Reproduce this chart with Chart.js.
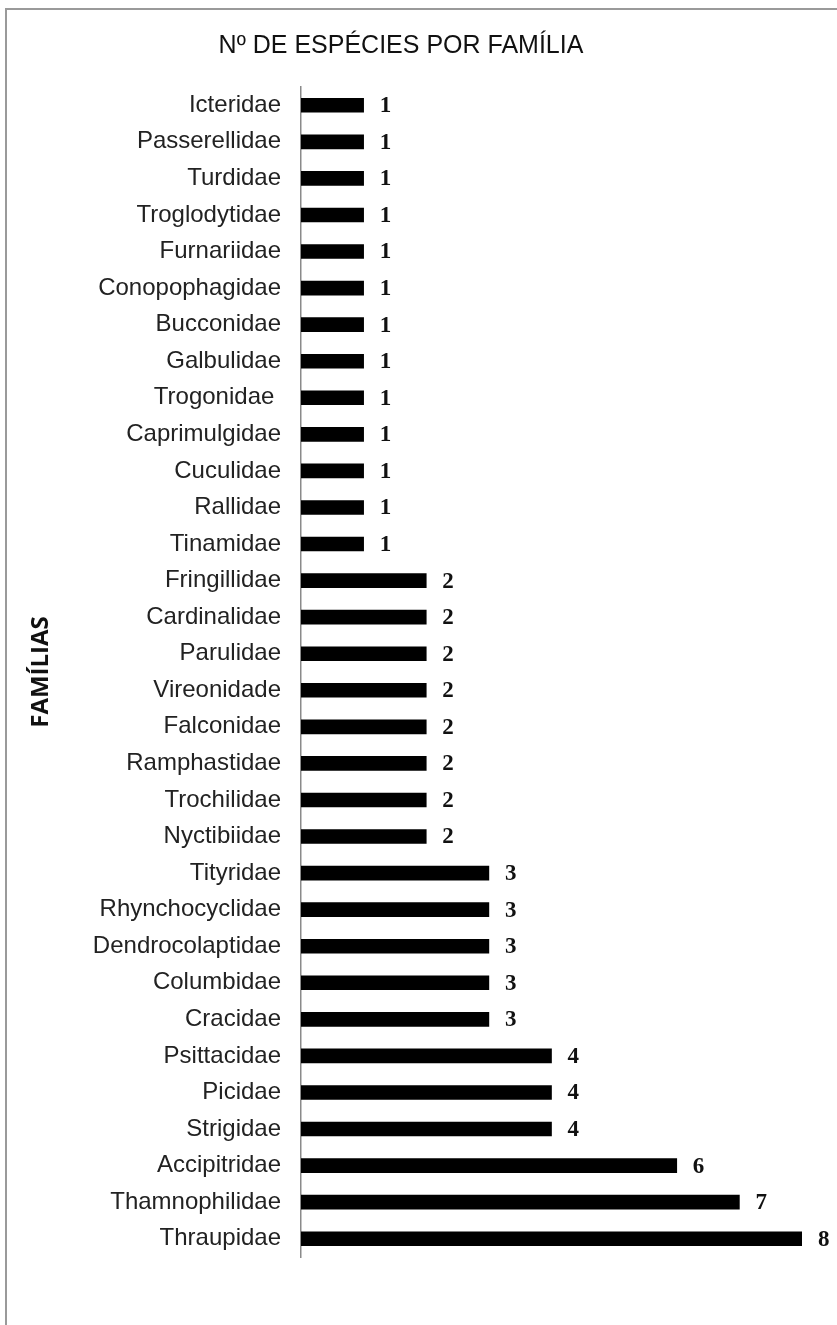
<!DOCTYPE html>
<html>
<head>
<meta charset="utf-8">
<script src="https://cdn.jsdelivr.net/npm/chart.js@4"></script>
<style>
  html, body { margin: 0; padding: 0; background: #fff; }
  #wrap { position: relative; width: 837px; height: 1325px; overflow: hidden; }
  #frame { position: absolute; left: 5px; top: 8px; width: 900px; height: 1400px;
           border-top: 2px solid #9a9a9a; border-left: 2px solid #9a9a9a; }
  canvas { position: absolute; left: 0; top: 0; }
</style>
</head>
<body>
<div id="wrap">
  <div id="frame"></div>
  <canvas id="myBarChart" width="837" height="1325"></canvas>
</div>
<script>
// familias (de cima pra baixo) e numero de especies
const familias = [
  'Icteridae', 'Passerellidae', 'Turdidae', 'Troglodytidae', 'Furnariidae',
  'Conopophagidae', 'Bucconidae', 'Galbulidae', 'Trogonidae ', 'Caprimulgidae',
  'Cuculidae', 'Rallidae', 'Tinamidae', 'Fringillidae', 'Cardinalidae',
  'Parulidae', 'Vireonidade', 'Falconidae', 'Ramphastidae', 'Trochilidae',
  'Nyctibiidae', 'Tityridae', 'Rhynchocyclidae', 'Dendrocolaptidae', 'Columbidae',
  'Cracidae', 'Psittacidae', 'Picidae', 'Strigidae', 'Accipitridae',
  'Thamnophilidae', 'Thraupidae'
];
const especies = [
  1, 1, 1, 1, 1,
  1, 1, 1, 1, 1,
  1, 1, 1, 2, 2,
  2, 2, 2, 2, 2,
  2, 3, 3, 3, 3,
  3, 4, 4, 4, 6,
  7, 8
];

// escreve o valor ao lado de cada barra
const rotuloValor = {
  id: 'rotuloValor',
  afterDatasetsDraw(chart) {
    const { ctx } = chart;
    const meta = chart.getDatasetMeta(0);
    ctx.save();
    ctx.font = 'bold 23px "Liberation Serif", "DejaVu Serif", serif';
    ctx.fillStyle = '#111';
    ctx.textAlign = 'left';
    ctx.textBaseline = 'middle';
    meta.data.forEach((bar, i) => {
      ctx.fillText(String(especies[i]), bar.x + 16, bar.y + 1);
    });
    ctx.restore();
  }
};

new Chart(document.getElementById('myBarChart'), {
  type: 'bar',
  data: {
    labels: familias,
    datasets: [{
      data: especies,
      backgroundColor: '#000',
      borderWidth: 0,
      barThickness: 14
    }]
  },
  options: {
    indexAxis: 'y',
    responsive: false,
    animation: false,
    layout: { padding: { left: 0, right: 35, top: 0, bottom: 68 } },
    plugins: {
      legend: { display: false },
      tooltip: { enabled: false },
      title: {
        display: true,
        text: 'Nº DE ESPÉCIES POR FAMÍLIA',
        color: '#111',
        font: { family: '"Liberation Sans", Arial, sans-serif', size: 25, weight: 'normal' },
        padding: { top: 31, bottom: 26 }
      }
    },
    scales: {
      x: {
        display: false,
        min: 0,
        max: 8
      },
      y: {
        afterFit(scale) { scale.width = 301; },
        grid: { display: false, drawTicks: false },
        border: { display: true, color: '#8a8a8a', width: 1.5 },
        ticks: {
          color: '#222',
          padding: 20,
          autoSkip: false,
          font: { family: '"Liberation Sans", Arial, sans-serif', size: 24 }
        },
        title: {
          display: true,
          text: 'FAMÍLIAS',
          color: '#111',
          font: { family: '"Open Sans", "DejaVu Sans", sans-serif', size: 24, weight: 'bold' },
          padding: { top: 27, bottom: 0 }
        }
      }
    }
  },
  plugins: [rotuloValor]
});
</script>
</body>
</html>
